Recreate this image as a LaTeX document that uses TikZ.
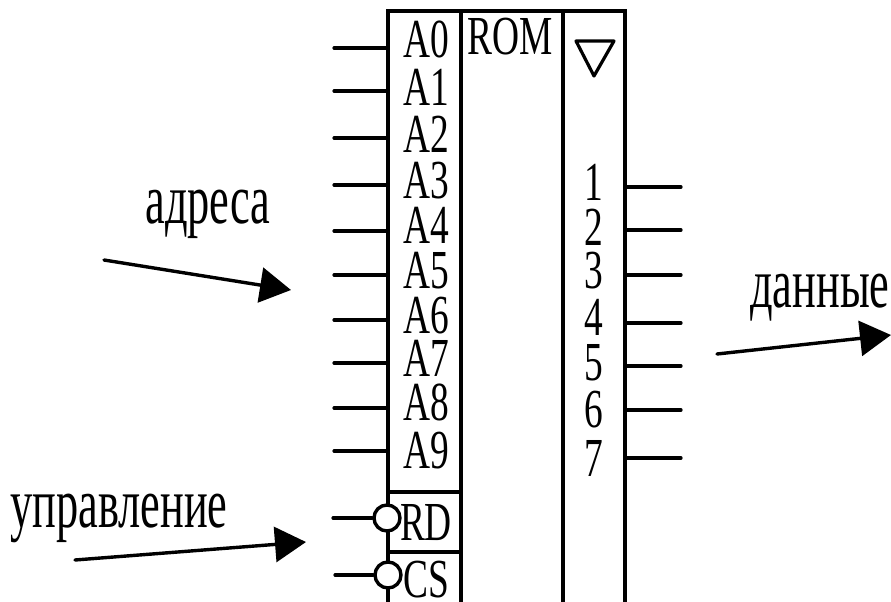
\documentclass[tikz,border=0pt]{standalone}
\usepackage{fontspec}
\setmainfont{Liberation Serif}[FakeStretch=0.68]
\newfontfamily\tallfont{Liberation Serif}[FakeStretch=0.625]
\usetikzlibrary{arrows.meta}
\tikzset{
  wire/.style={line width=3.2pt,line cap=round},
  frame/.style={line width=3.4pt},
  lbl/.style={font=\fontsize{55}{55}\selectfont,inner sep=0pt,anchor=base},
  big/.style={font=\tallfont\fontsize{71}{71}\selectfont,inner sep=0pt,anchor=base},
  bubble/.style={circle,draw,line width=3.4pt,fill=white,minimum size=26pt,inner sep=0pt},
  bigarrow/.style={line width=3.4pt,line cap=round,-{Triangle[length=31pt,width=35pt]}}
}
\begin{document}
\begin{tikzpicture}[x=1pt,y=-1pt]
\useasboundingbox (0,0) rectangle (891,602);
\clip (0,0) rectangle (891,602);
% frame
\draw[frame] (388,610) -- (388,11) -- (625,11) -- (625,610);
\draw[frame] (461,11) -- (461,610);
\draw[frame] (563,11) -- (563,610);
\draw[frame] (388,492) -- (461,492);
\draw[frame] (388,552) -- (461,552);
\draw[line width=3.2pt,line join=round] (576,41) -- (614,41) -- (594,76) -- cycle;
% address pins
\foreach \n/\y/\b [count=\i from 0] in {0/48/58,1/91/105,2/138/152,3/185/198,4/231/243,5/275/288,6/320/333,7/363/376,8/408/420,9/451/468}{
  \coordinate (ain\i) at (334,\y);
  \coordinate (apin\i) at (388,\y);
  \draw[wire] (ain\i) -- (apin\i);
  \node[lbl] (al\i) at (426,\b) {A\n};
}
% data pins
\foreach \n/\y/\b in {1/187/200,2/230/245,3/275/288,4/323/335,5/366/380,6/410/427,7/458/476}{
  \coordinate (dpin\n) at (626,\y);
  \coordinate (dout\n) at (681,\y);
  \draw[wire] (dpin\n) -- (dout\n);
  \node[lbl] (dl\n) at (594,\b) {\n};
}
\node[lbl] (rom) at (510,55) {ROM};
% control pins
\node[bubble] (rdb) at (387,518) {};
\node[bubble] (csb) at (388,575) {};
\coordinate (rdin) at (333,518);
\coordinate (csin) at (335,575);
\draw[wire] (rdin) -- (rdb);
\draw[wire] (csin) -- (csb);
\node[lbl] (rd) at (426,540) {RD};
\node[lbl] (cs) at (426,597) {CS};
% annotations
\node[big] (addr) at (208,223) {адреса};
\node[big] (data) at (820,307) {данные};
\node[big] (ctrl) at (119,527) {управление};
\coordinate (a1) at (104,260); \coordinate (a2) at (291,290);
\coordinate (b1) at (717,354); \coordinate (b2) at (891,335);
\coordinate (c1) at (75,560); \coordinate (c2) at (306,542);
\draw[bigarrow] (a1) -- (a2);
\draw[bigarrow] (b1) -- (b2);
\draw[bigarrow] (c1) -- (c2);
\end{tikzpicture}
\end{document}
